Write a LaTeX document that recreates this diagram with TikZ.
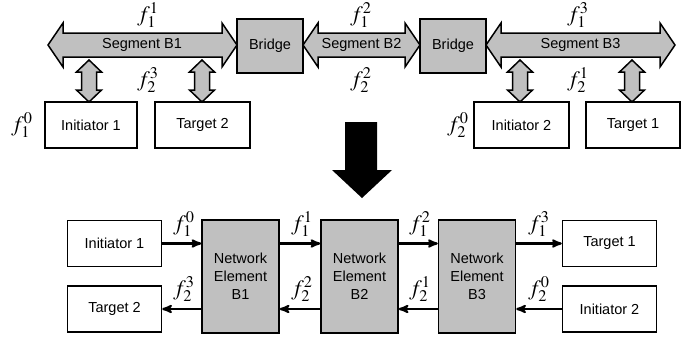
\documentclass[tikz,border=0pt]{standalone}
\usepackage{mathptmx}
\usepackage{fontspec}
\setmainfont{Liberation Sans}
\usetikzlibrary{positioning,calc,arrows}
\definecolor{blockgray}{HTML}{C0C0C0}

\tikzset{
    box/.style={rectangle,draw=black,line width=1.5pt,fill=white,minimum width=94pt,minimum height=46pt,font=\fontsize{14.5}{17}\selectfont},
    bridge/.style={rectangle,draw=black,line width=1.5pt,fill=blockgray,minimum width=66pt,minimum height=54pt,font=\fontsize{14.5}{17}\selectfont},
    element/.style={rectangle,draw=black,line width=1.5pt,fill=blockgray,minimum width=77pt,minimum height=113pt,align=center,font=\fontsize{14.5}{18}\selectfont},
    blockarrow/.style={draw=black,line width=1.5pt,fill=blockgray,line join=miter},
    flow/.style={line width=2.2pt,->,>=stealth'},
    flabel/.style={draw=none,inner sep=0pt,font=\fontsize{22}{24}\selectfont}
}

\begin{document}
\begin{tikzpicture}[x=1pt,y=-1pt]
    \useasboundingbox (0,0) rectangle (697,341);

    % Segments
    \foreach \a/\b in {48/237, 303/420, 486/675} {
        \draw[blockarrow] (\a,45) -- (\a+15,23) -- (\a+15,33) -- (\b-15,33) -- (\b-15,23) -- (\b,45)
            -- (\b-15,67) -- (\b-15,57) -- (\a+15,57) -- (\a+15,67) -- cycle;
    }
    \node (seg1) [draw=none,font=\fontsize{14.5}{17}\selectfont] at (142,45) {Segment B1};
    \node (seg2) [draw=none,font=\fontsize{14.5}{17}\selectfont] at (361.5,45) {Segment B2};
    \node (seg3) [draw=none,font=\fontsize{14.5}{17}\selectfont] at (580.5,45) {Segment B3};

    \node (br1) [bridge] at (270,46) {Bridge};
    \node (br2) [bridge] at (453,46) {Bridge};

    % Attached devices
    \node (ini1) [box,minimum width=92pt] at (91,125) {Initiator 1};
    \node (tgt2) [box,minimum width=95pt] at (202.5,125) {Target 2};
    \node (ini2) [box,minimum width=95pt] at (521.5,125) {Initiator 2};
    \node (tgt1) [box] at (633,125) {Target 1};

    \foreach \x in {89,202,520,632} {
        \draw[blockarrow] (\x,60) -- (\x+12.5,72) -- (\x+7.5,72) -- (\x+7.5,90) -- (\x+12.5,90) -- (\x,102)
            -- (\x-12.5,90) -- (\x-7.5,90) -- (\x-7.5,72) -- (\x-12.5,72) -- cycle;
    }

    \node (la11) [flabel] at (148,15) {$f_1^1$};
    \node (la23) [flabel] at (148,80) {$f_2^3$};
    \node (la10) [flabel] at (22,125) {$f_1^0$};
    \node (la12) [flabel] at (361,15) {$f_1^2$};
    \node (la22) [flabel] at (361,80) {$f_2^2$};
    \node (la13) [flabel] at (578,15) {$f_1^3$};
    \node (la21) [flabel] at (578,80) {$f_2^1$};
    \node (la20) [flabel] at (458,125) {$f_2^0$};

    % Big arrow
    \fill[black] (345,122) -- (377,122) -- (377,170) -- (392,170) -- (362,198) -- (332,170) -- (345,170) -- cycle;

    % Network elements
    \node (bini1) [box] at (114.5,243.5) {Initiator 1};
    \node (btgt2) [box] at (114.5,309) {Target 2};
    \node (ne1) [element] at (240.5,276.5) {Network\\Element\\B1};
    \node (ne2) [element] at (359.5,276.5) {Network\\Element\\B2};
    \node (ne3) [element] at (477,276.5) {Network\\Element\\B3};
    \node (btgt1) [box] at (609.5,243.5) {Target 1};
    \node (bini2) [box] at (609.5,309) {Initiator 2};

    % Arrows
    \draw[flow] (bini1.east) to (bini1.east -| ne1.west);
    \draw[flow] (ne1.east |- bini1) to (ne2.west |- bini1);
    \draw[flow] (ne2.east |- bini1) to (ne3.west |- bini1);
    \draw[flow] (ne3.east |- btgt1) to (btgt1.west);
    \draw[flow] (bini2.west) to (bini2.west -| ne3.east);
    \draw[flow] (ne3.west |- btgt2) to (ne2.east |- btgt2);
    \draw[flow] (ne2.west |- btgt2) to (ne1.east |- btgt2);
    \draw[flow] (ne1.west |- btgt2) to (btgt2.east);

    \node (lb10) [flabel] at (184,224) {$f_1^0$};
    \node (lb11) [flabel] at (302,224) {$f_1^1$};
    \node (lb12) [flabel] at (420,224) {$f_1^2$};
    \node (lb13) [flabel] at (539,224) {$f_1^3$};
    \node (lb23) [flabel] at (184,289) {$f_2^3$};
    \node (lb22) [flabel] at (302,289) {$f_2^2$};
    \node (lb21) [flabel] at (420,289) {$f_2^1$};
    \node (lb20) [flabel] at (539,289) {$f_2^0$};

\end{tikzpicture}
\end{document}
